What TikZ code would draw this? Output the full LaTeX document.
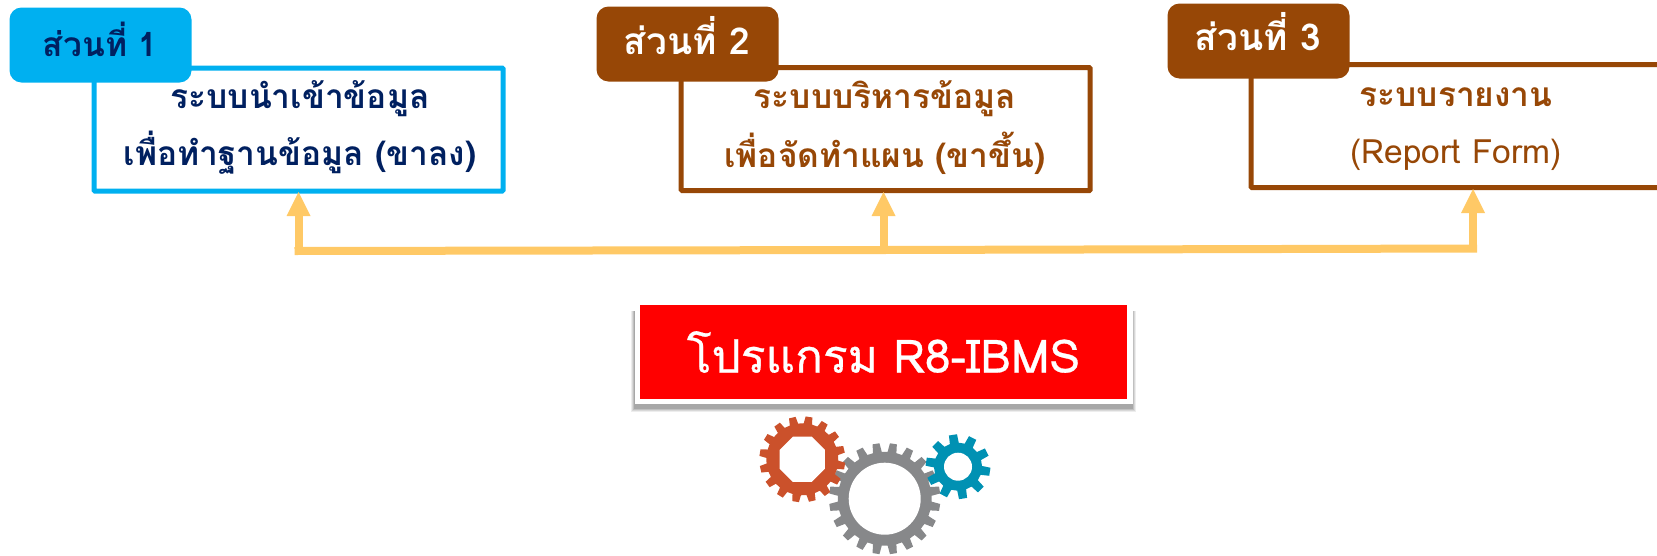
\documentclass[tikz,border=0pt]{standalone}
\usepackage{fontspec}
\newfontfamily\thaifont[Script=Thai]{Loma}
\definecolor{cyanc}{HTML}{00B0F0}
\definecolor{brownc}{HTML}{974706}
\definecolor{navyc}{HTML}{002060}
\definecolor{yellowc}{HTML}{FFC966}
\definecolor{orangec}{HTML}{CB512B}
\definecolor{grayc}{HTML}{87888A}
\definecolor{tealc}{HTML}{0091B3}
\tikzset{
  framebox/.style={draw=#1,line width=5pt,fill=white,minimum width=409pt,minimum height=123pt,inner sep=0pt,rounded corners=1pt},
  tagbox/.style={fill=#1,rounded corners=12pt,minimum width=182pt,minimum height=75pt,inner sep=0pt},
  tagtext/.style={text=#1,font=\thaifont\bfseries\fontsize{33.5}{40}\selectfont,inner sep=0pt,anchor=center},
  whitetag/.style={text=white,font=\thaifont\bfseries\fontsize{37}{44}\selectfont,inner sep=0pt,anchor=center},
  boxtext/.style={text=#1,font=\thaifont\bfseries\fontsize{33.5}{40}\selectfont,inner sep=0pt,anchor=center},
  trunk/.style={draw=yellowc,line width=8pt},
  riser/.style={draw=yellowc,line width=8pt,shorten >=20pt},
  headtip/.style={fill=yellowc}
}
\newcommand{\gearshape}[6]{%
  \fill[#6,shift={(#1,#2)}]
    \foreach \i [evaluate=\i as \a using \i*360/#5+9, evaluate=\i as \p using 360/#5] in {1,...,#5} {
      \ifnum\i=1 (\a-0.30*\p:#4) \else -- (\a-0.30*\p:#4) \fi
      -- (\a-0.20*\p:#3) -- (\a+0.20*\p:#3) -- (\a+0.30*\p:#4)
    } -- cycle;}
\begin{document}
\begin{tikzpicture}[x=1pt,y=-1pt]
\useasboundingbox (0,0) rectangle (1657,555);
\clip (0,0) rectangle (1657,555);
% frames
\node[framebox=cyanc] (box1) at (298.5,129.5) {};
\node[framebox=brownc] (box2) at (885.7,129) {};
\node[framebox=brownc] (box3) at (1455.5,126) {};
\coordinate (b1) at (298.5,191);
\coordinate (b2) at (883.5,191);
\coordinate (b3) at (1473,188);
% tags
\node[tagbox=cyanc] (tag1) at (100.5,45) {};
\node[tagbox=brownc] (tag2) at (687.5,44) {};
\node[tagbox=brownc] (tag3) at (1258.5,41) {};
\node[tagtext=navyc] (tag1t) at (100,39) {ส่วนที่ 1};
\node[whitetag] (tag2t) at (687,36) {ส่วนที่ 2};
\node[whitetag] (tag3t) at (1258,32) {ส่วนที่ 3};
% box texts
\node[boxtext=navyc] (t1a) at (300,99) {ระบบนำเข้าข้อมูล};
\node[boxtext=navyc] (t1b) at (300,153) {เพื่อทำฐานข้อมูล (ขาลง)};
\node[boxtext=brownc] (t2a) at (885,99) {ระบบบริหารข้อมูล};
\node[boxtext=brownc] (t2b) at (885,153) {เพื่อจัดทำแผน (ขาขึ้น)};
\node[boxtext=brownc] (t3a) at (1456,97) {ระบบรายงาน};
\node[boxtext=brownc,font=\thaifont\fontsize{33.5}{40}\selectfont] (t3b) at (1456,155) {(Report Form)};
% connectors
\coordinate (c1) at (298.5,251);
\coordinate (c2) at (883.5,250);
\coordinate (c3) at (1473,248.5);
\draw[trunk] (294.5,251) -- (c2) -- (1477,248.5);
\draw[riser] (c1) -- (b1);
\draw[riser] (c2) -- (b2);
\draw[riser] (c3) -- (b3);
\fill[headtip] (b1) ++(0,1) -- ++(-12,24) -- ++(24,0) -- cycle;
\fill[headtip] (b2) ++(0,1) -- ++(-12,24) -- ++(24,0) -- cycle;
\fill[headtip] (b3) ++(0,1) -- ++(-12,24) -- ++(24,0) -- cycle;
% program box with shadow
\foreach \d/\o in {3/0.07,2/0.09,1/0.11,0/0.13}{
  \fill[black,opacity=\o] (634-\d,311) rectangle (1133+\d,409+\d);
}
\node[fill=white,minimum width=498pt,minimum height=100pt,inner sep=0pt] (frame) at (883.5,354) {};
\node[fill=red,minimum width=487pt,minimum height=94pt,inner sep=0pt,text=white,font=\thaifont\fontsize{46}{55}\selectfont] (prog) at (883.5,352) {\addfontfeature{FakeBold=0.6}โปรแกรม R8-IBMS};
% gears
\gearshape{884.7}{498.7}{55.7}{47}{20}{grayc}
\fill[white] (884.7,498.7) circle (36);
\gearshape{958}{466.7}{32.5}{24}{10}{tealc}
\fill[white] (958,466.7) circle (14);
\gearshape{802.3}{459.3}{43}{36}{16}{orangec}
\fill[white,shift={(802.3,459.3)}] (22.5:24.5) -- (67.5:24.5) -- (112.5:24.5) -- (157.5:24.5) -- (202.5:24.5) -- (247.5:24.5) -- (292.5:24.5) -- (337.5:24.5) -- cycle;
\end{tikzpicture}
\end{document}
